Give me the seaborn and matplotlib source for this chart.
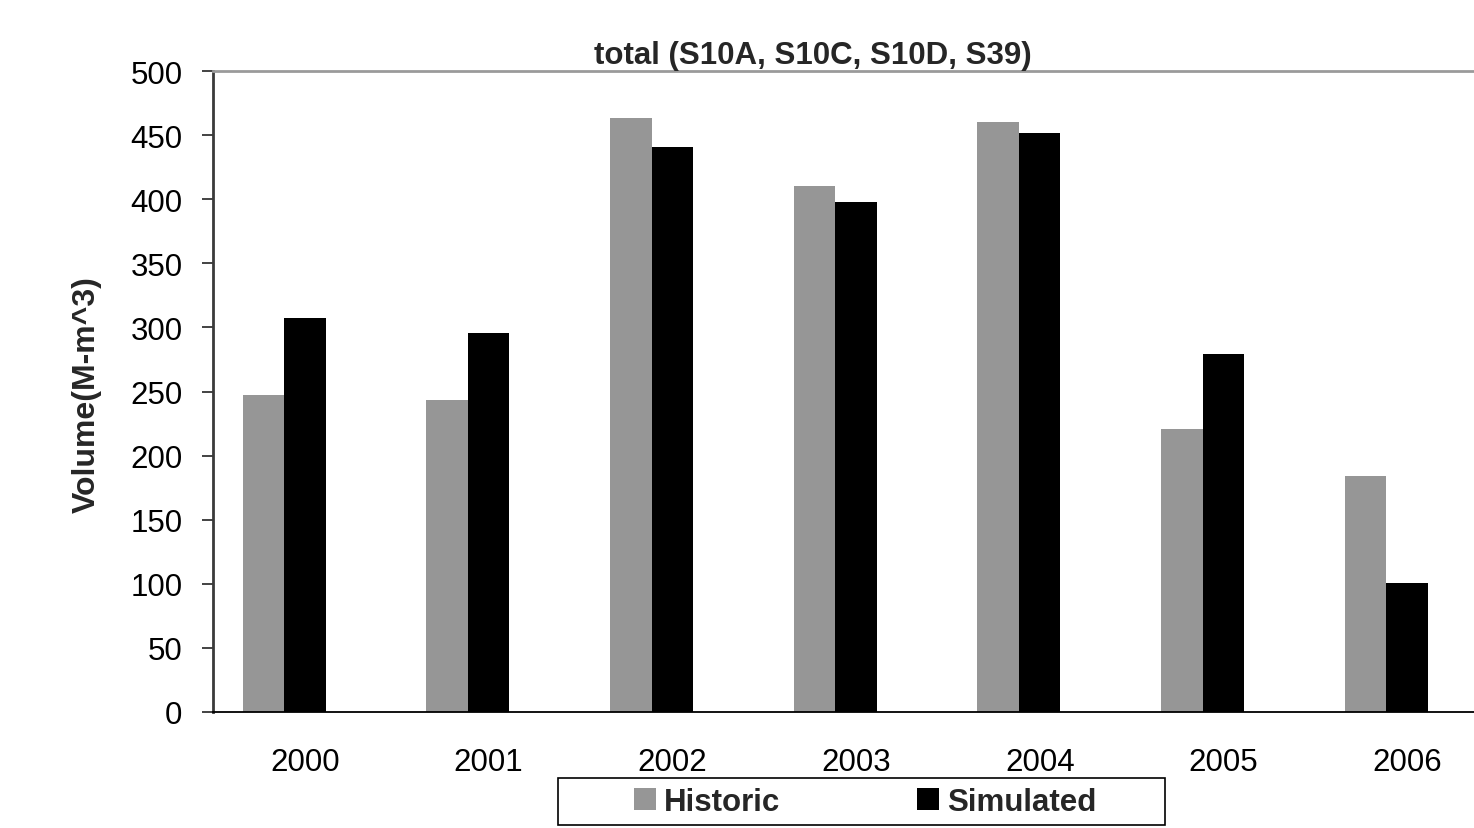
import matplotlib
matplotlib.use("Agg")
import matplotlib.pyplot as plt
from matplotlib.patches import Patch, Rectangle
import pandas as pd
import seaborn as sns

# Annual volumes for the combined structures
years = ["2000", "2001", "2002", "2003", "2004", "2005", "2006"]
historic = [247, 243, 463, 410, 460, 221, 184]
simulated = [307, 296, 441, 398, 452, 279, 101]
series = ["Historic", "Simulated"]
y_ticks = [0, 50, 100, 150, 200, 250, 300, 350, 400, 450, 500]

df = pd.DataFrame({
    "Year": years * 2,
    "Volume": historic + simulated,
    "Series": ["Historic"] * len(years) + ["Simulated"] * len(years),
})

sns.set_theme(style="white")
plt.rcParams["font.family"] = ["Liberation Sans", "DejaVu Sans"]

W, H = 1474, 829
fig = plt.figure(figsize=(W / 100, H / 100), dpi=100)
ax = fig.add_axes([213 / W, (H - 713) / H, 1286 / W, 641 / H])

# third (empty) slot keeps the bar pair left of the category centre
spacer = " "
sns.barplot(
    data=df, x="Year", y="Volume", hue="Series",
    order=years, hue_order=series + [spacer],
    palette=["#969696", "#000000", "#ffffff"],
    width=0.678, saturation=1, linewidth=0, legend=False, ax=ax,
)

ax.set_xlim(-0.5, len(years) - 0.5)
ax.set_ylim(0, 500)
ax.set_yticks(y_ticks)
ax.set_yticklabels([str(v) for v in y_ticks])
ax.set_xticks(range(len(years)))
ax.set_xticklabels(years)
ax.set_xticks([i - 0.5 for i in range(len(years) + 1)], minor=True)
ax.set_xlabel("")
ax.set_ylabel("")

ax.tick_params(axis="x", which="major", length=0, pad=25, labelsize=22.5, labelcolor="black")
ax.tick_params(axis="x", which="minor", length=7.5, width=1.2, color="#222222", direction="out")
ax.tick_params(axis="y", which="major", length=8, width=1.2, color="#222222",
               direction="out", pad=14, labelsize=22.5, labelcolor="black", left=True)

for side in ("left", "top", "bottom", "right"):
    ax.spines[side].set_visible(True)
ax.spines["left"].set_color("#3a3a3a")
ax.spines["left"].set_linewidth(2)
ax.spines["top"].set_color("#9a9a9a")
ax.spines["top"].set_linewidth(2)
ax.spines["bottom"].set_color("#000000")
ax.spines["bottom"].set_linewidth(1.3)
ax.spines["right"].set_visible(False)
ax.grid(False)

fig.text(813 / W, (H - 56) / H, "total (S10A, S10C, S10D, S39)",
         ha="center", va="center", fontsize=22.5, fontweight="bold")
fig.text(87 / W, (H - 395) / H, "Volume(M-m^3)", rotation=90,
         ha="center", va="center", fontsize=23, fontweight="bold")

# legend box and entries
fig.patches.append(Rectangle((558 / W, (H - 826) / H), (1165 - 558) / W, 47 / H,
                             transform=fig.transFigure, facecolor="white",
                             edgecolor="black", linewidth=1.2, zorder=5))
handles = [Patch(facecolor="#969696", edgecolor="none"),
           Patch(facecolor="#000000", edgecolor="none")]
leg = fig.legend(handles, series, loc="center",
                 bbox_to_anchor=(865 / W, (H - 803) / H), ncol=2,
                 frameon=False, borderpad=0, handlelength=0.7, handleheight=0.7,
                 handletextpad=0.25, columnspacing=4.4,
                 prop={"size": 22.5, "weight": "bold"})
leg.set_zorder(6)

fig.savefig("out.png", dpi=100)
